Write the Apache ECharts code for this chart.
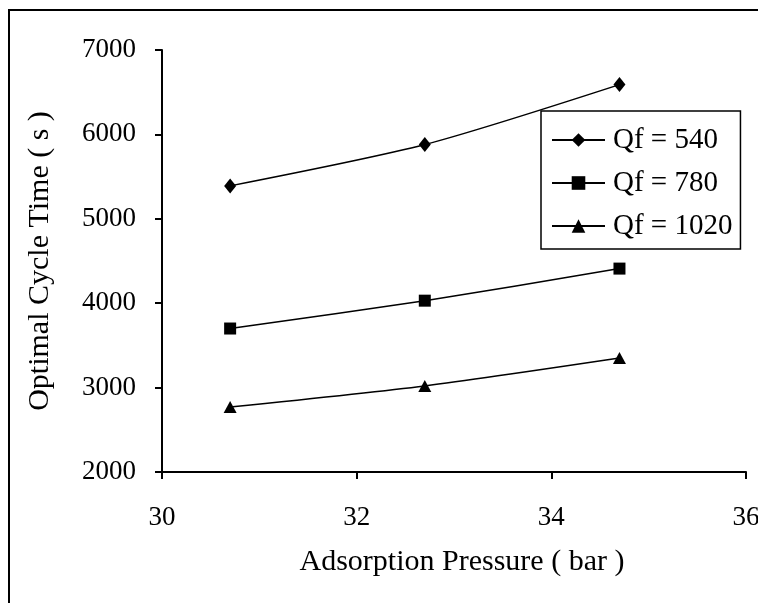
<!DOCTYPE html>
<html>
<head>
<meta charset="utf-8">
<script src="https://cdn.jsdelivr.net/npm/echarts@6/dist/echarts.min.js"></script>
<style>
  html, body { margin: 0; padding: 0; background: #fff; }
  #chart { width: 758px; height: 603px; }
</style>
</head>
<body>
<div id="chart"></div>
<script>
// pressures (bar) and optimal cycle times (s)
const pressures = [30.7, 32.7, 34.7];
const qf540 = [5390, 5880, 6590];
const qf780 = [3700, 4030, 4410];
const qf1020 = [2770, 3020, 3350];
const seriesNames = ['Qf = 540', 'Qf = 780', 'Qf = 1020'];
const xTicks = [30, 32, 34, 36];
const yTicks = [2000, 3000, 4000, 5000, 6000, 7000];

const font = 'Liberation Serif';
const chart = echarts.init(document.getElementById('chart'));

function makeSeries(name, values, symbol, size) {
  return {
    name: name,
    type: 'line',
    smooth: 0.25,
    data: pressures.map((p, i) => [p, values[i]]),
    symbol: symbol,
    symbolSize: size,
    lineStyle: { color: '#000', width: 1.5 },
    itemStyle: { color: '#000' },
    z: 3
  };
}

chart.setOption({
  animation: false,
  backgroundColor: '#fff',
  graphic: [{
    type: 'rect',
    shape: { x: 9, y: 10, width: 800, height: 700 },
    style: { fill: 'none', stroke: '#000', lineWidth: 2 },
    silent: true
  }],
  grid: { left: 162, right: 12, top: 50, bottom: 131, containLabel: false, outerBoundsMode: 'none' },
  xAxis: {
    type: 'value',
    min: xTicks[0],
    max: xTicks[xTicks.length - 1],
    interval: 2,
    name: 'Adsorption Pressure ( bar )',
    nameLocation: 'middle',
    nameGap: 75,
    nameTextStyle: { fontFamily: font, fontSize: 30, color: '#000', padding: [0, 0, 0, 16] },
    axisLine: { lineStyle: { color: '#000', width: 2 } },
    axisTick: { inside: false, length: 7, lineStyle: { color: '#000', width: 2 } },
    axisLabel: { fontFamily: font, fontSize: 27, color: '#000', margin: 32 },
    splitLine: { show: false }
  },
  yAxis: {
    type: 'value',
    min: yTicks[0],
    max: yTicks[yTicks.length - 1],
    interval: 1000,
    name: 'Optimal Cycle Time ( s )',
    nameLocation: 'middle',
    nameGap: 107,
    nameTextStyle: { fontFamily: font, fontSize: 30, color: '#000' },
    axisLine: { show: true, lineStyle: { color: '#000', width: 2 } },
    axisTick: { show: true, inside: false, length: 7, lineStyle: { color: '#000', width: 2 } },
    axisLabel: { fontFamily: font, fontSize: 27, color: '#000', margin: 26, formatter: v => String(v) },
    splitLine: { show: false }
  },
  legend: {
    orient: 'vertical',
    left: 541,
    top: 111,
    padding: [14.5, 8, 8.5, 10],
    itemGap: 14,
    itemWidth: 53,
    itemHeight: 17,
    backgroundColor: '#fff',
    borderColor: '#000',
    borderWidth: 1.5,
    z: 10,
    textStyle: { fontFamily: font, fontSize: 29, color: '#000', padding: [0, 0, 0, 3] },
    data: seriesNames
  },
  series: [
    makeSeries(seriesNames[0], qf540, 'diamond', [12, 15]),
    makeSeries(seriesNames[1], qf780, 'rect', 12),
    makeSeries(seriesNames[2], qf1020, 'triangle', [13, 12])
  ]
});
</script>
</body>
</html>
